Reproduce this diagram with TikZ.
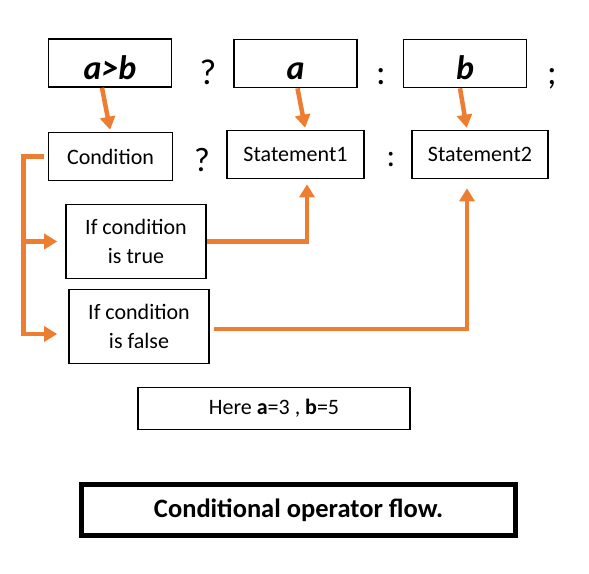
\documentclass[tikz,border=0pt]{standalone}
\usepackage{fontspec}
\setmainfont{Carlito}
\usepackage{xcolor}
\usepackage{tikz}
\usetikzlibrary{arrows.meta, positioning, calc}
\definecolor{corange}{HTML}{ED7D31}

\begin{document}
\begin{tikzpicture}[x=1pt, y=-1pt,
  box/.style={draw=black, line width=1.6pt, inner sep=0pt, align=center,
    font=\fontsize{22}{29}\selectfont},
  topbox/.style={box, minimum width=123pt, minimum height=48pt,
    text height=32pt, text depth=0pt,
    font=\fontsize{34}{40}\selectfont\bfseries\itshape},
  midbox/.style={box, minimum height=48pt},
  sym/.style={anchor=base, inner sep=0pt, font=\fontsize{36}{40}\selectfont},
  flowline/.style={corange, line width=4.5pt},
  flow/.style={flowline, -{Triangle[length=13pt,width=15pt]}}]

  \useasboundingbox (0,0) rectangle (589,573);

  %% Top row: a>b ? a : b ;
  \node[topbox] (gt) at (110,63) {a>b};
  \node[topbox] (va) at (295.5,63.5) {a};
  \node[topbox] (vb) at (465,63.5) {b};
  \node[sym] (q1) at (208,84) {?};
  \node[sym] (c1) at (381,84) {:};
  \node[sym] (s1) at (552,84) {;};

  %% Second row
  \node[midbox, minimum width=124pt] (cond) at (110.5,156.5) {Condition};
  \node[midbox, minimum width=137pt] (stmt1) at (295.5,154.5) {Statement1};
  \node[midbox, minimum width=136pt] (stmt2) at (480,154.5) {Statement2};
  \node[sym, font=\fontsize{34}{40}\selectfont] (q2) at (202,171) {?};
  \node[sym, font=\fontsize{32}{40}\selectfont] (c2) at (391,166) {:};

  %% Branch boxes
  \node[box, minimum width=140pt, minimum height=74pt] (istrue) at (136,241.5)
    {If condition\\is true};
  \node[box, minimum width=140pt, minimum height=74pt] (isfalse) at (139,326.5)
    {If condition\\is false};

  %% Values and caption
  \node[box, minimum width=272pt, minimum height=42pt] (here) at (274,408.5)
    {Here \textbf{a}=3 , \textbf{b}=5};
  \node[box, line width=5pt, minimum width=434pt, minimum height=51pt,
    font=\fontsize{26.5}{31}\selectfont\bfseries] (caption) at (298.5,510)
    {Conditional operator flow.};

  %% Arrows from the top row
  \draw[flow, shorten >=2pt] ([xshift=-8pt]gt.south) -- (cond.north);
  \draw[flow, shorten >=2pt] ([xshift=2pt]va.south) -- ([xshift=10pt]stmt1.north);
  \draw[flow, shorten >=2pt] ([xshift=-5pt]vb.south) -- ([xshift=-13pt]stmt2.north);

  %% Bracket from the condition
  \coordinate (bend) at ($(cond.west)+(-24,0)$);
  \draw[flow, line join=miter] ([xshift=-4pt]cond.west) -- (bend)
    |- ([xshift=-11pt, yshift=-7.5pt]isfalse.west);
  \draw[flow] (bend |- istrue.west) -- ([xshift=-8pt]istrue.west);

  %% Results
  \draw[flow, shorten >=5pt] (istrue.east) -| ([xshift=11.5pt]stmt1.south);
  \draw[flow, shorten >=9pt] ([xshift=4pt, yshift=-2.5pt]isfalse.east)
    -| ([xshift=-13pt]stmt2.south);

\end{tikzpicture}
\end{document}
